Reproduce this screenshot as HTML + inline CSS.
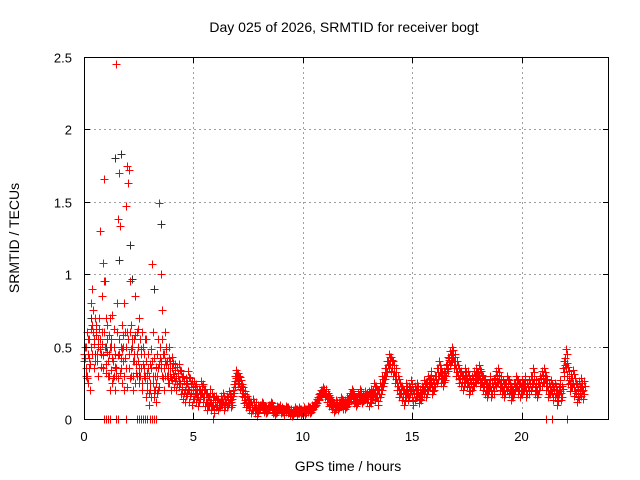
<!DOCTYPE html>
<html><head><meta charset="utf-8"><style>
body{margin:0;background:#fff;}
svg{display:block;font-family:"Liberation Sans",sans-serif;}
</style></head><body>
<svg id="chart" width="640" height="480" xmlns="http://www.w3.org/2000/svg">
<rect width="640" height="480" fill="#fff"/>
<text x="344" y="32" font-size="14" text-anchor="middle">Day 025 of 2026, SRMTID for receiver bogt</text>
<text x="348" y="471" font-size="14" text-anchor="middle">GPS time / hours</text>
<text transform="translate(19,238) rotate(-90)" font-size="14" text-anchor="middle">SRMTID / TECUs</text>
<g id="grid"></g>
<g id="marks"></g>
<rect x="84.5" y="57.5" width="524" height="362" fill="none" stroke="#000" stroke-width="1"/>
<g id="ticks"></g>
</svg>
<script>
const xTicks=[0,5,10,15,20];
const yTicks=[0,0.5,1,1.5,2,2.5];
const yTickLabels=["0","0.5","1","1.5","2","2.5"];
const earlyHours=[0,0.05,0.1,0.15,0.2,0.25,0.3,0.35,0.4,0.45,0.5,0.55,0.6,0.65,0.7,0.75,0.8,0.85,0.9,0.95,1.0,1.05,1.1,1.15,1.2,1.25,1.3,1.35,1.4,1.45,1.5,1.55,1.6,1.65,1.7,1.75,1.8,1.85,1.9,1.95,2.0,2.05,2.1,2.15,2.2,2.25,2.3,2.35,2.4,2.45,2.5,2.55,2.6,2.65,2.7,2.75,2.8,2.85,2.9,2.95,3.0,3.05,3.1,3.15,3.2,3.25,3.3,3.35,3.4,3.45,3.5,3.55,3.6,3.65,3.7,3.75,3.8,3.85,3.9,3.95];
const earlyValues=[0.45,0.42,0.5,0.3,0.25,0.55,0.8,0.9,0.6,0.35,0.7,0.65,0.45,0.5,0.62,1.3,0.85,1.08,1.66,0.95,0.7,0.55,0.4,0.3,0.2,0.5,0.72,0.62,0.45,2.45,0.8,1.38,1.7,1.33,0.35,0.25,0.5,0.8,1.47,1.75,1.63,1.72,0.95,0.65,0.5,0.3,0.45,0.85,0.6,0.4,0.7,0.55,0.35,0.2,0.5,0.45,0.3,0.15,0.25,0.1,0.2,0.35,1.07,0.6,0.15,0.2,0.25,0.3,0.55,1.49,1.0,0.75,0.45,0.35,0.6,0.5,0.4,0.3,0.25,0.35];
const earlyValues2=[0.4,0.3,0.6,0.45,0.35,0.2,0.5,0.65,0.75,0.55,0.4,0.6,0.3,0.7,0.55,0.45,0.6,0.35,0.95,0.5,0.38,0.65,0.45,0.7,0.55,0.25,0.4,0.3,0.2,0.35,0.6,0.28,0.45,0.5,0.65,0.4,0.3,0.6,0.35,0.22,0.55,0.45,0.6,0.3,0.4,0.55,0.25,0.38,0.3,0.5,0.25,0.3,0.45,0.6,0.35,0.28,0.55,0.2,0.35,0.18,0.25,0.15,0.4,0.3,0.2,0.12,0.18,0.35,0.22,0.5,0.4,0.3,0.28,0.45,0.3,0.38,0.25,0.5,0.4,0.2];
const earlyValues3=[0.5,0.35,0.28,0.55,0.42,0.38,0.62,0.45,0.52,0.7,0.58,0.4,0.55,0.62,0.48,0.36,0.52,0.44,0.6,0.32,0.46,0.3,0.58,0.5,0.34,0.42,0.28,0.5,0.36,0.3,0.44,0.55,0.32,0.42,0.48,0.58,0.2,0.42,0.5,0.6,0.35,0.28,0.48,0.55,0.2,0.4,0.58,0.32,0.45,0.62,0.35,0.48,0.25,0.38,0.3,0.55,0.4,0.32,0.45,0.3,0.38,0.48,0.25,0.42,0.3,0.36,0.45,0.2,0.38,0.42,0.35,0.55,0.2,0.4,0.48,0.3,0.35,0.42,0.3,0.28];
const traceStart=4.0;
const traceStep=0.1;
const traceValues=[
0.35,0.3,0.28,0.3,0.25,0.22,0.2,0.25,0.2,0.18,
0.2,0.18,0.15,0.2,0.18,0.15,0.12,0.15,0.12,0.1,
0.12,0.1,0.12,0.14,0.1,0.12,0.15,0.12,0.2,0.3,
0.28,0.25,0.2,0.15,0.12,0.1,0.08,0.1,0.08,0.06,
0.08,0.1,0.07,0.06,0.08,0.1,0.06,0.05,0.07,0.08,
0.06,0.05,0.07,0.06,0.05,0.04,0.06,0.05,0.06,0.05,
0.06,0.05,0.07,0.06,0.08,0.1,0.12,0.15,0.18,0.2,
0.18,0.15,0.12,0.1,0.08,0.1,0.09,0.12,0.1,0.1,
0.12,0.15,0.18,0.14,0.12,0.15,0.18,0.14,0.16,0.15,
0.14,0.16,0.2,0.18,0.15,0.2,0.25,0.3,0.35,0.4,
0.38,0.35,0.3,0.25,0.2,0.18,0.15,0.2,0.18,0.22,
0.15,0.18,0.2,0.16,0.18,0.22,0.2,0.25,0.28,0.22,
0.25,0.3,0.35,0.3,0.28,0.32,0.38,0.42,0.45,0.4,
0.35,0.3,0.28,0.25,0.3,0.28,0.22,0.25,0.28,0.3,
0.32,0.28,0.25,0.22,0.2,0.25,0.2,0.22,0.28,0.3,
0.25,0.22,0.2,0.25,0.22,0.18,0.2,0.25,0.22,0.2,
0.22,0.25,0.2,0.22,0.25,0.3,0.22,0.2,0.25,0.28,
0.3,0.25,0.2,0.22,0.18,0.2,0.15,0.22,0.18,0.35,
0.42,0.3,0.25,0.28,0.22,0.18,0.2,0.22,0.2];
const traceSpread=[0.08,0.06,0.04,0.04,0.02,0.02,0.02,0.03,0.03,0.05,0.05,0.05,0.05,0.05,0.05,0.05,0.05,0.05,0.06];
const zeroHours=[0.9,1.0,1.1,1.2,1.45,1.55,1.9,2.4,2.5,2.6,2.7,2.8,2.9,3.0,3.1,3.2,3.3,5.9,21.1,21.4,22.1];
const darkHours=[1.4,1.7,3.5,2.1,0.3,1.0,2.7,1.6,2.2,3.2,0.5,2.5];
const darkValues=[1.8,1.83,1.35,1.2,0.7,0.5,0.5,1.1,0.97,0.9,0.45,0.3];

const X0=84,X1=609,Y0=419,Y1=57,XMAX=24,YMAX=2.5;
function xs(h){return X0+(X1-X0)*h/XMAX;}
function ys(v){return Y0-(Y0-Y1)*v/YMAX;}
const NS="http://www.w3.org/2000/svg";
const grid=document.getElementById('grid'),ticks=document.getElementById('ticks'),marks=document.getElementById('marks');
function line(p,x1,y1,x2,y2,st,dash,name){const l=document.createElementNS(NS,'line');l.setAttribute('x1',x1);l.setAttribute('y1',y1);l.setAttribute('x2',x2);l.setAttribute('y2',y2);l.setAttribute('stroke',st);if(dash)l.setAttribute('stroke-dasharray',dash);


p.appendChild(l);}
function txt(x,y,s,anchor,name){const t=document.createElementNS(NS,'text');t.setAttribute('x',x);t.setAttribute('y',y);t.setAttribute('font-size','13');t.setAttribute('text-anchor',anchor);t.textContent=s;


ticks.appendChild(t);}
xTicks.forEach(t=>{const x=Math.round(xs(t))+0.5;
if(t>0)line(grid,x,Y1,x,Y0,'#a0a0a0','2,3','x-grid-line');
line(ticks,x,Y0,x,Y0-6,'#000',null,'x-tick');line(ticks,x,Y1,x,Y1+6,'#000',null,'x-tick');
txt(xs(t),441,String(t),'middle','x-tick-label');});
yTicks.forEach((t,i)=>{const y=Math.round(ys(t))+0.5;
if(t>0&&t<YMAX)line(grid,X0,y,X1,y,'#a0a0a0','2,3','y-grid-line');
line(ticks,X0,y,X0+6,y,'#000',null,'y-tick');line(ticks,X1,y,X1-6,y,'#000',null,'y-tick');
txt(72,y+5,yTickLabels[i],'end','y-tick-label');});
let redD='',darkD='';
function plusD(h,v){const x=Math.round(xs(h))+0.5,y=Math.round(ys(v))+0.5;return `M${x-4} ${y}H${x+4}M${x} ${y-4}V${y+4}`;}
earlyHours.forEach((h,i)=>{redD+=plusD(h,earlyValues[i]);redD+=plusD(h+0.02,earlyValues2[i]);redD+=plusD(h+0.035,earlyValues3[i]);});
traceValues.forEach((v,i)=>{const h=traceStart+i*traceStep;const s=traceSpread[Math.min(traceSpread.length-1,Math.floor(h-4))];
redD+=plusD(h,v);redD+=plusD(h+0.02,Math.max(0.01,v-s));redD+=plusD(h+0.04,v+s);redD+=plusD(h+0.06,Math.max(0.01,v-s/2));redD+=plusD(h+0.08,v+s/2);});
zeroHours.forEach(h=>{redD+=plusD(h,0);});
darkHours.forEach((h,i)=>{darkD+=plusD(h,darkValues[i]);});
function addPath(d,color,name){const p=document.createElementNS(NS,'path');p.setAttribute('d',d);p.setAttribute('stroke',color);p.setAttribute('stroke-width','1');p.setAttribute('shape-rendering','crispEdges');p.setAttribute('fill','none');


marks.appendChild(p);}
addPath(darkD,'#303030','dark-series-points');
addPath(redD,'#ff0000','srmtid-points');
</script>
</body></html>
